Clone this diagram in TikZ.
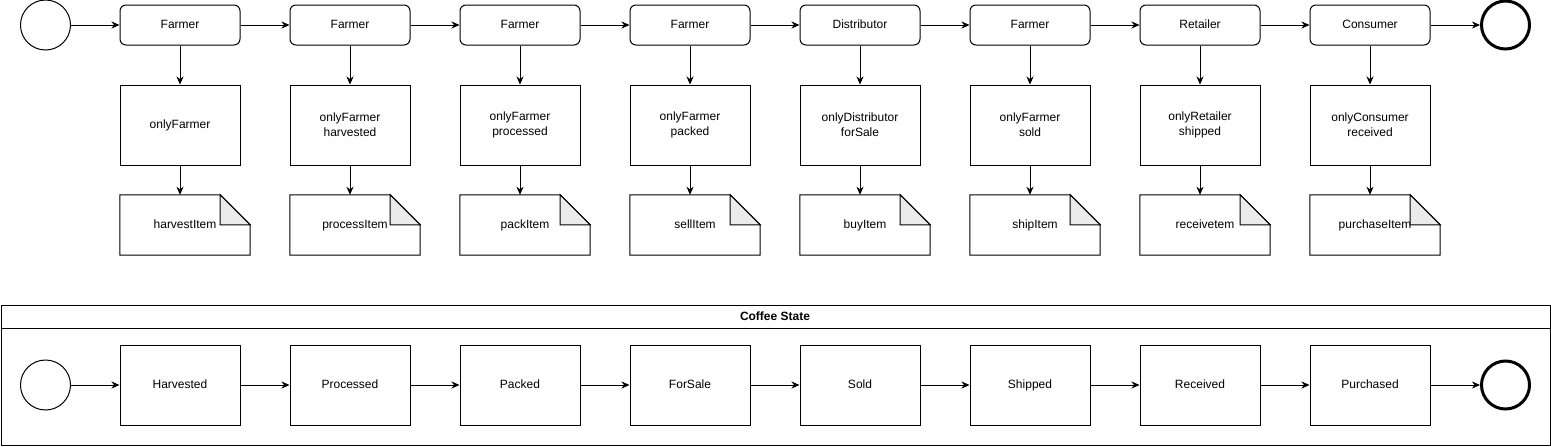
\documentclass[tikz,border=0pt]{standalone}
\usepackage{fontspec}
\setmainfont{Liberation Sans}
\usetikzlibrary{arrows.meta,calc}
\begin{document}
\begin{tikzpicture}[x=1pt,y=-1pt,
  every node/.style={font=\fontsize{12}{14}\selectfont, inner sep=0pt},
  fixtext/.style={text height=8.6pt, text depth=2.5pt},
  actor/.style={draw, line width=1pt, rounded corners=6pt, minimum width=120pt, minimum height=40pt, fixtext},
  guard/.style={draw, line width=1pt, minimum width=120pt, minimum height=80pt, align=center, font=\fontsize{12}{15}\selectfont},
  notebox/.style={minimum width=130pt, minimum height=60pt, fixtext},
  state/.style={draw, line width=1pt, minimum width=120pt, minimum height=80pt, fixtext},
  startc/.style={draw, line width=1pt, circle, minimum size=50pt},
  endc/.style={draw, line width=3pt, circle, minimum size=48pt},
  arr/.style={-{Stealth[length=8pt,width=7pt,inset=2.5pt]}, line width=1pt},
  outline/.style={line width=1pt, line join=miter}
]
\useasboundingbox (0,0) rectangle (1551,447);

% top flow
\node[startc] (s1) at (45.5,25) {};
\node[endc] (e1) at (1505.5,25) {};
% bottom container
\node[draw, line width=1pt, minimum width=1549pt, minimum height=140pt, anchor=north west] (cont) at (0.5,305) {};
\coordinate (hl) at (0.5,328.5);
\coordinate (hr) at (1550.5,328.5);
\draw[line width=1pt] (hl) -- (hr);
\node[font=\fontsize{12}{14}\selectfont\bfseries, fixtext] (title) at (775,317) {Coffee State};
\node[startc] (s2) at (45.5,385) {};
\node[endc] (e2) at (1505.5,385) {};

\foreach \a/\g/\n/\s [count=\i from 0] in {
  Farmer/{onlyFarmer}/harvestItem/Harvested,
  Farmer/{onlyFarmer\\harvested}/processItem/Processed,
  Farmer/{onlyFarmer\\processed}/packItem/Packed,
  Farmer/{onlyFarmer\\packed}/sellItem/ForSale,
  Distributor/{onlyDistributor\\forSale}/buyItem/Sold,
  Farmer/{onlyFarmer\\sold}/shipItem/Shipped,
  Retailer/{onlyRetailer\\shipped}/receivetem/Received,
  Consumer/{onlyConsumer\\received}/purchaseItem/Purchased}{
  \node[actor] (a\i) at (180+170*\i,25) {\a};
  \node[guard] (g\i) at (180+170*\i,125) {\g};
  \node[notebox] (n\i) at (185+170*\i,225) {\n};
  \node[state] (t\i) at (180+170*\i,385) {\s};
  \draw[outline] (n\i.north west) -- ($(n\i.north east)+(-30,0)$) -- ($(n\i.north east)+(0,30)$) -- (n\i.south east) -- (n\i.south west) -- cycle;
  \filldraw[outline, fill=black!8] ($(n\i.north east)+(-30,0)$) -- ($(n\i.north east)+(-30,30)$) -- ($(n\i.north east)+(0,30)$) -- cycle;
  \draw[arr] (a\i) -- (g\i);
  \draw[arr] (g\i.south) -- (g\i.south |- n\i.north);
}
\foreach \i [evaluate=\i as \j using int(\i+1)] in {0,...,6}{
  \draw[arr] (a\i) -- (a\j);
  \draw[arr] (t\i) -- (t\j);
}
\draw[arr] (s1) -- (a0);
\draw[arr] (a7) -- (e1);
\draw[arr] (s2) -- (t0);
\draw[arr] (t7) -- (e2);
\end{tikzpicture}
\end{document}
